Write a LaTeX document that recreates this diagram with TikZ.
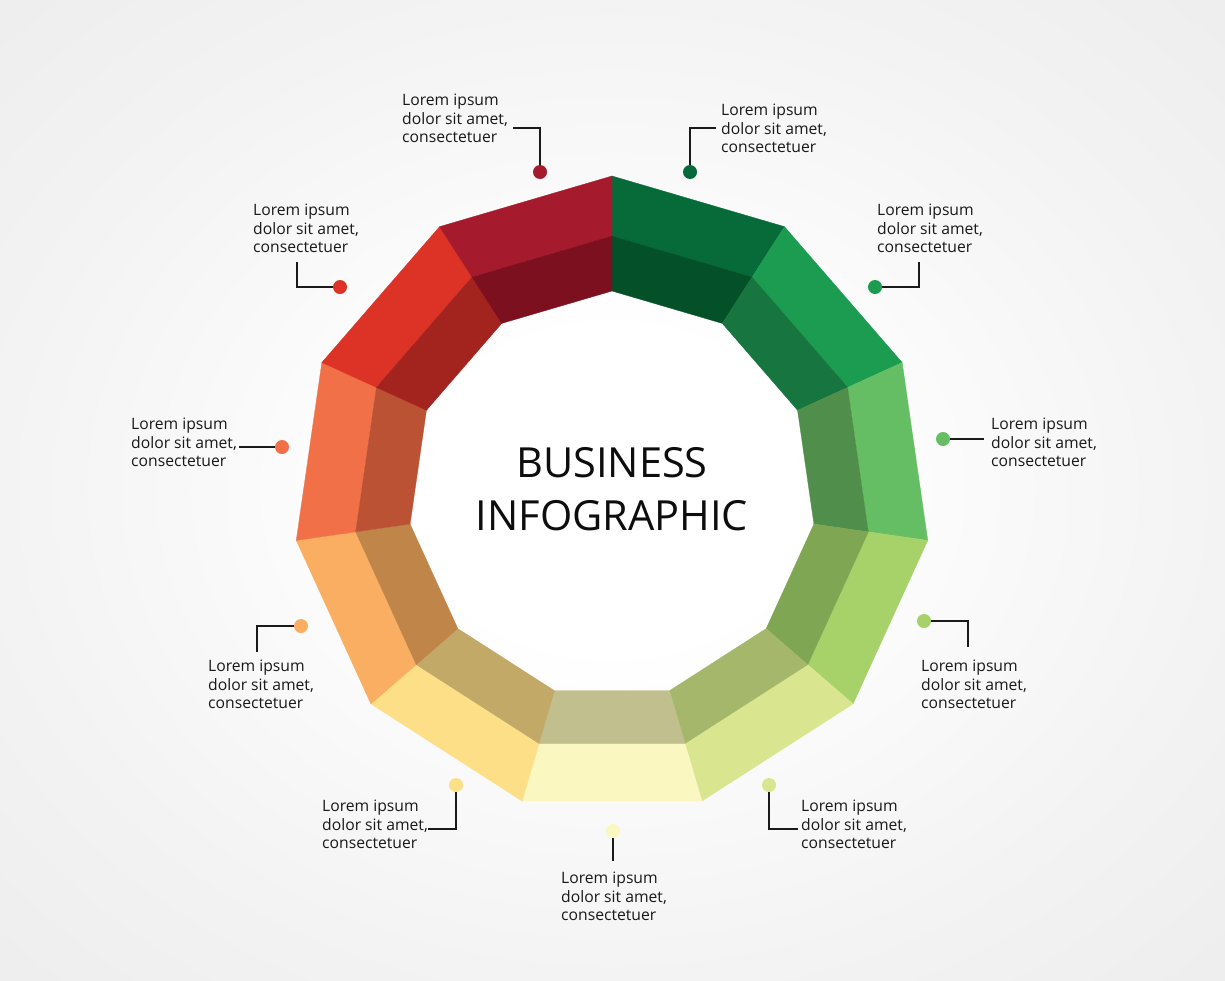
\documentclass[tikz,border=0pt]{standalone}
\usepackage{fontspec}
\newfontfamily\labelfont{Open Sans}
\definecolor{oA}{HTML}{066B39}\definecolor{iA}{HTML}{045029}
\definecolor{oB}{HTML}{1B9C50}\definecolor{iB}{HTML}{17753F}
\definecolor{oC}{HTML}{65BE63}\definecolor{iC}{HTML}{4F8F4B}
\definecolor{oD}{HTML}{A7D26A}\definecolor{iD}{HTML}{7EA653}
\definecolor{oE}{HTML}{D9E68F}\definecolor{iE}{HTML}{A4B76A}
\definecolor{oF}{HTML}{FBF7C1}\definecolor{iF}{HTML}{C0BF8D}
\definecolor{oG}{HTML}{FDDF87}\definecolor{iG}{HTML}{C3A968}
\definecolor{oH}{HTML}{F9AE61}\definecolor{iH}{HTML}{C08548}
\definecolor{oI}{HTML}{F27048}\definecolor{iI}{HTML}{BA5233}
\definecolor{oJ}{HTML}{DC3326}\definecolor{iJ}{HTML}{A3241F}
\definecolor{oK}{HTML}{A51B2D}\definecolor{iK}{HTML}{7C101F}
\definecolor{linecol}{HTML}{1A1A1A}
\definecolor{bgmid}{HTML}{F3F3F3}
\definecolor{bgedge}{HTML}{E6E6E6}
\definecolor{bgcorner}{HTML}{DEDEDE}
\pgfdeclareradialshading{bgshade}{\pgfpoint{0bp}{0bp}}{color(0bp)=(white); color(8bp)=(white); color(25bp)=(bgmid); color(50bp)=(bgedge); color(72bp)=(bgcorner)}
\begin{document}
\begin{tikzpicture}[x=1pt,y=-1pt,
  dot/.style={circle, inner sep=0pt, minimum size=14pt},
  lbl/.style={anchor=north west, inner sep=0pt, align=left, font=\labelfont\fontsize{15.7}{18.5}\selectfont, text=black!90},
  conn/.style={line width=1.5pt, draw=linecol}]
\useasboundingbox (0,0) rectangle (1225,980);
\shade[shading=bgshade] (0,0) rectangle (1225,980);
% ring
\begin{scope}[shift={(612,495)}]
\foreach \k/\c in {0/A,1/B,2/C,3/D,4/E,5/F,6/G,7/H,8/I,9/J,10/K}{
  \pgfmathsetmacro\a{270+\k*360/11}
  \pgfmathsetmacro\b{270+(\k+1)*360/11}
  \filldraw[fill=o\c, draw=o\c, line width=0.3pt, line join=round] (\a:319) -- (\b:319) -- (\b:259) -- (\a:259) -- cycle;
  \filldraw[fill=i\c, draw=i\c, line width=0.3pt, line join=round] (\a:259) -- (\b:259) -- (\b:204) -- (\a:204) -- cycle;
}
\end{scope}
% title
\node[anchor=north, inner sep=0pt, align=center, font=\labelfont\fontsize{41.5}{53.4}\selectfont, text=black!95] (title) at (612,447) {BUSINESS\\INFOGRAPHIC};
% dots
\node[dot, fill=oA] (d0) at (690,172) {};
\node[dot, fill=oB] (d1) at (875,287) {};
\node[dot, fill=oC] (d2) at (943,439) {};
\node[dot, fill=oD] (d3) at (924,621) {};
\node[dot, fill=oE] (d4) at (769,785) {};
\node[dot, fill=oF] (d5) at (613,831) {};
\node[dot, fill=oG] (d6) at (456,785) {};
\node[dot, fill=oH] (d7) at (301,626) {};
\node[dot, fill=oI] (d8) at (282,447) {};
\node[dot, fill=oJ] (d9) at (340,287) {};
\node[dot, fill=oK] (d10) at (540,172) {};
% labels
\node[lbl] (t0) at (721,104) {Lorem ipsum\\dolor sit amet,\\consectetuer};
\node[lbl] (t1) at (877,204) {Lorem ipsum\\dolor sit amet,\\consectetuer};
\node[lbl] (t2) at (991,418) {Lorem ipsum\\dolor sit amet,\\consectetuer};
\node[lbl] (t3) at (921,660) {Lorem ipsum\\dolor sit amet,\\consectetuer};
\node[lbl] (t4) at (801,800) {Lorem ipsum\\dolor sit amet,\\consectetuer};
\node[lbl] (t5) at (561,872) {Lorem ipsum\\dolor sit amet,\\consectetuer};
\node[lbl] (t6) at (322,800) {Lorem ipsum\\dolor sit amet,\\consectetuer};
\node[lbl] (t7) at (208,660) {Lorem ipsum\\dolor sit amet,\\consectetuer};
\node[lbl] (t8) at (131,418) {Lorem ipsum\\dolor sit amet,\\consectetuer};
\node[lbl] (t9) at (253,204) {Lorem ipsum\\dolor sit amet,\\consectetuer};
\node[lbl] (t10) at (402,94) {Lorem ipsum\\dolor sit amet,\\consectetuer};
% connector ends
\coordinate (c0) at (716,128);
\coordinate (c1) at (919,262);
\coordinate (c2) at (984,439);
\coordinate (c3) at (968,647);
\coordinate (c4) at (798,829);
\coordinate (c5) at (613,861);
\coordinate (c6) at (428,829);
\coordinate (c7) at (257,652);
\coordinate (c8) at (239,447);
\coordinate (c9) at (297,262);
\coordinate (c10) at (513,128);
\draw[conn] (d0) |- (c0);
\draw[conn] (d1) -| (c1);
\draw[conn] (d2) -- (c2);
\draw[conn] (d3) -| (c3);
\draw[conn] (d4) |- (c4);
\draw[conn] (d5) -- (c5);
\draw[conn] (d6) |- (c6);
\draw[conn] (d7) -| (c7);
\draw[conn] (d8) -- (c8);
\draw[conn] (d9) -| (c9);
\draw[conn] (d10) |- (c10);
\end{tikzpicture}
\end{document}
